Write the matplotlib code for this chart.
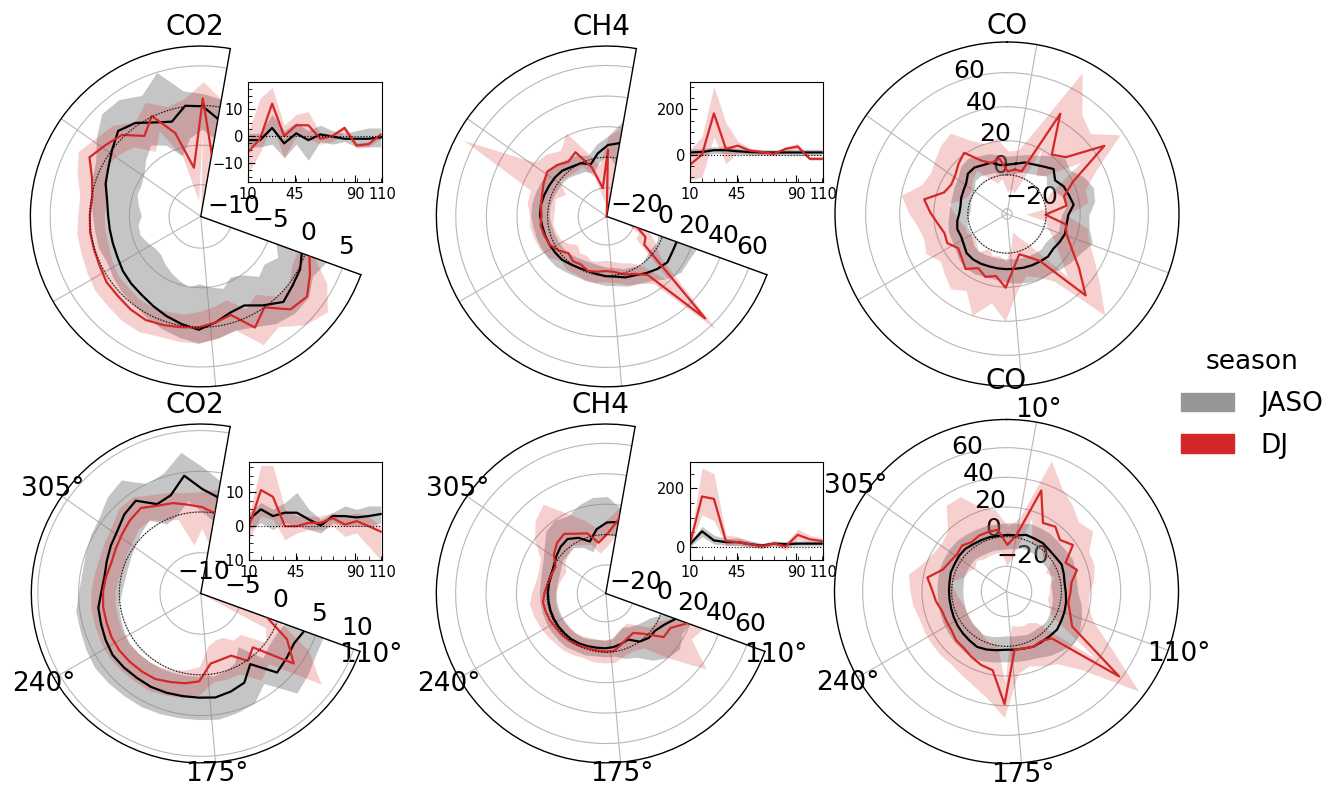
import numpy as np
import matplotlib
matplotlib.use("Agg")
import matplotlib.pyplot as plt
from matplotlib.patches import Patch
from matplotlib.ticker import AutoMinorLocator, FixedLocator

# ------------------------------------------------------------------
# Wind-direction bins (degrees, clockwise from north); the first 12
# bins (10-109 deg) are also shown enlarged in the inset panels.
# ------------------------------------------------------------------
wind_dir = np.arange(10, 370, 9)
n_inset = 12
seasons = ["JASO", "DJ"]
gases = ["CO2", "CH4", "CO"]

# ---------------- upper row -----------------
co2_u_jaso = [-1.5, -1.5, 3, -2.7, 1, -1.5, 0.6, -0.2, -1, -1, -1, -0.5,
              0.2, 0.5, 1.0, -0.3, -1.5, -1.3, -0.5, 0.3, -0.2, -0.7, -1.2, -1.6, -1.8, -2.0,
              -2.3, -2.4, -2.4, -2.3, -2.0, -1.3, -0.8, 0.0, 1.0, 0.4, -0.8, -1.5, 0.1, -0.1]
co2_u_jaso_lo = [-4, -4, -3, -8, -3, -9, -2, -3, -2, -4, -4, -4,
                 -3, -4, -3.5, -5, -5.5, -4.5, -5, -5.5, -5, -5.5, -6, -6.5, -7, -7,
                 -6.5, -6, -6, -6.5, -6, -5.5, -5.5, -5, -4, -3, -4, -6, -4, -3]
co2_u_jaso_hi = [1, 1, 8, 2, 5, 2, 4, 2, 1, 2, 3, 3,
                 2, 3, 3, 2.5, 1.5, 1, 1.5, 2, 1.5, 1, 0.5, 0, -0.2, -0.5,
                 -0.8, -0.5, -0.5, -0.3, 0, 0.5, 1, 2.5, 4, 4, 3, 5, 2, 1.5]
co2_u_dj = [-6, -1, 12, 0, 4, 4, -1, 0, 3, -3.5, -3, 0.5,
            1.6, 2.8, 2.3, 0.0, 1.6, -1.0, -0.5, 0.0, 0.2, 0.5, 0.8, 0.7, 0.5, 0.5,
            0.2, 0.1, 0.1, 0.0, -0.1, 0.5, 1.9, 1.0, 0.3, -1.6, 0.1, -3.0, -7.8, 0.9]
co2_u_dj_lo = [-14, -6, 4, -8, 0, -1, -3, -2, 1, -4.5, -4, -1,
               -1, 0, 0, -2, -1, -3, -2.5, -2, -1.5, -1.3, -1, -1, -1.2, -1.2,
               -1.5, -1.8, -1.8, -1.8, -2, -1.5, -0.5, -1, -1.8, -4, -2, -6, -12, -3]
co2_u_dj_hi = [1, 14, 18, 4, 8, 9, 1, 1, 4, -2.5, -2, 1,
               4, 6, 5, 3, 4, 1, 1.5, 2, 2, 2, 2.5, 2.5, 2.3, 2.3,
               2, 1.8, 1.8, 1.5, 1.5, 2.5, 3.5, 2.5, 2, 0.5, 2, 0.5, 1, 3]

ch4_u_jaso = [10, 12, 20, 20, 15, 12, 10, 10, 10, 10, 10, 10,
              10, 11, 9, 6.5, 4, 3, 1, 0.4, -0.5, -1, -0.5, 0.5, 2, 2.5,
              3, 3.5, 4, 5, 5, 4.5, 4, 3.7, 3, 1, 0, -3, 3, 8]
ch4_u_jaso_lo = [-5, -3, 5, 5, 2, 0, -2, -2, -2, -3, -3, -3,
                 -2, -3, -2, 0.5, -2, -3, -5, -5.6, -6.5, -7, -6.5, -5.5, -4, -3.5,
                 -3, -2.5, -2, -1, -1, -1.5, -2, -2.3, -3, -5, -6, -9, -3, 2]
ch4_u_jaso_hi = [25, 27, 35, 35, 28, 25, 22, 22, 22, 24, 24, 24,
                 22, 22, 18, 12.5, 10, 9, 7, 6.4, 5.5, 5, 5.5, 6.5, 8, 8.5,
                 9, 9.5, 10, 11, 11, 10.5, 10, 9.7, 9, 7, 6, 3, 9, 14]
ch4_u_dj = [-44, 0, 182, 26, 40, 18, 12, 4, 26, 36, -18, -18,
            -10, -8, 54, 8, 3, 1, -2, -3, -2, -1, -3, -2, -4, 0,
            3, 4, 5, 4, 5, 6, 8, 10, 8, 5, 8, -5, -20, 5]
ch4_u_dj_lo = [-110, -100, 80, -40, 10, 0, 0, -5, 15, 25, -25, -25,
               -15, -15, 20, 0, -5, -7, -9, -10, -9, -8, -10, -9, -12, -8,
               -5, -4, -3, -4, -4, -3, -8, 0, -2, -3, -2, -12, -30, -5]
ch4_u_dj_hi = [20, 80, 300, 140, 60, 30, 20, 10, 35, 50, -10, -10,
               -3, 5, 64, 15, 10, 8, 5, 4, 5, 6, 4, 5, 3, 8,
               10, 11, 12, 12, 14, 14, 67, 20, 18, 14, 22, 5, -5, 14]

co_u_jaso = [7, 9, 10, 12, 15, 11.5, 14, 15, 16.5, 13, 12.5, 13,
             12, 11, 11.7, 11, 10.5, 10, 9.5, 9.4, 9.4, 9.5, 10, 10.3, 10, 8,
             7, 7.5, 6.5, 5, 4.7, 5.5, 6, 7, 10, 10.3, 9, 8.5, 6, 6]
co_u_jaso_lo = [1, 3, 4, 6, 9, 5.5, 8, 11, 12.5, 9, 8.5, 9,
                6, 5, 5.7, 5, 4.5, 4, 3.5, 3.4, 3.4, 3.5, 4, 4.3, 4, 2,
                1, 1.5, 0.5, -1, -1.3, -0.5, 0, 1, 4, 4.3, 3, 2.5, 0, 0]
co_u_jaso_hi = [12, 14, 16, 20, 24, 22, 27, 30, 29, 25, 26, 30,
                26, 24, 22, 20, 20, 19, 18, 17, 16, 16, 17, 17, 16, 14,
                13, 13, 12, 11, 11, 11, 12, 13, 16, 17, 15, 14, 12, 11]
co_u_dj = [3.5, 3.5, 43.7, 20.7, 25, 46.8, 20, 12, 12.3, -0.4, 12, 14,
           20, 30, 43.5, 10.7, 5, 1.7, 8, 20.3, 14, 16, 13, 17.4, 14, 12,
           16, 15.4, 18, 22, 26.4, 16, 14, 15, 18, 20.9, 12, 8.2, 10, 2]
co_u_dj_lo = [-8, -10, 20, 5, 10, 30, 5, 0, 0, -12, 0, 2,
              8, 15, 28, -2, -8, -12, -5, 5, 2, 3, 0, 5, 2, 0,
              3, 3, 5, 8, 12, 4, 2, 3, 6, 8, 0, -4, -2, -10]
co_u_dj_hi = [15, 30, 71, 50, 45, 58, 35, 25, 25, 12, 25, 28,
              35, 45, 59.5, 25, 18, 15, 22, 40, 30, 40, 28, 32, 28, 25,
              30, 28, 30, 35, 40, 30, 28, 30, 33, 35, 25, 20, 22, 14]

# ---------------- lower row -----------------
co2_l_jaso = [2, 5, 3, 4, 4, 2, 0.2, 3, 3, 2.6, 3, 3.6,
              3.0, 3.2, 3.5, 0.6, 2.2, 2.6, 2.9, 2.8, 2.8, 2.9, 3.0, 3.0, 3.1, 3.2,
              3.0, 2.8, 2.7, 2.2, 2.0, 2.2, 2.5, 2.8, 3.5, 3.9, 2.2, 2.6, 4.6, 2.8]
co2_l_jaso_lo = [-1, 1, -1, 1, 0, -1, -2, 1, 0, 0, 0, 1,
                 0.5, 0.5, 1, -2, -0.5, 0, 0.3, 0.2, 0.2, 0.3, 0.4, 0.5, 0.6, 0.7,
                 0.5, 0.3, 0.2, -0.3, -0.5, -0.5, -0.3, 0, 0.5, 1, -0.5, 0, 1.5, 0]
co2_l_jaso_hi = [4, 7, 5, 7, 10, 5, 2, 4, 6, 5, 6, 6,
                 6, 6.5, 7, 3.5, 5, 5.3, 5.6, 5.5, 5.5, 5.6, 5.7, 5.7, 5.8, 5.9,
                 5.7, 5.5, 5.5, 5.0, 4.8, 5.0, 5.3, 5.6, 6.5, 7, 5, 5.5, 7.5, 5.5]
co2_l_dj = [0, 10.7, 8.7, 0, 0, 1, 1, 2.4, 0.5, 1.5, 0, -1.6,
            2.0, 4.3, -0.8, 0.1, -1.5, -1.5, -1.3, 0.8, 1.2, 1.5, 1.9, 2.0, 2.1, 2.2,
            2.2, 2.1, 2.1, 2.0, 1.8, 1.6, 1.8, 2.1, 2.5, 2.8, 2.0, 1.6, 1.0, 0.6]
co2_l_dj_lo = [-4, 3, 2, -4, -2, -1, -1, 0, -3, -2, -6, -10,
               -1, 0, -3, -3, -4, -4, -3.5, -1, -0.5, 0, 0.3, 0.5, 0.6, 0.7,
               0.7, 0.6, 0.6, 0.5, 0.3, 0, 0.3, 0.5, 1, 1, 0, -0.5, -4, -2]
co2_l_dj_hi = [3, 18, 18, 5, 3, 3, 3, 4, 3, 4, 3, 0,
               5, 8.5, 2, 3, 1, 1, 1, 2.5, 3, 3.2, 3.5, 3.5, 3.6, 3.7,
               3.7, 3.6, 3.6, 3.5, 3.3, 3.2, 3.4, 3.7, 4.5, 4.5, 3.5, 3, 2.5, 2.5]

ch4_l_jaso = [9, 53, 22, 16, 16, 9, 4, 11, 9, 11, 11, 11,
              5, 2, 2, 0, -5, -4, -3, -2.6, -2.5, -2, -1.5, -1, -1, -0.8,
              -0.7, -0.7, -0.7, -0.7, -0.8, -1, 0, 2, 4, 5, 2, -3, 4, 8]
ch4_l_jaso_lo = [0, 35, 10, 5, 5, 0, -5, 2, 0, 3, 3, 3,
                 -5, -8, -10, -12, -14, -12, -9, -8, -8, -7, -6, -6, -6, -6,
                 -6, -6, -6, -6, -6, -6, -5, -3, -3, -2, -5, -10, -3, 0]
ch4_l_jaso_hi = [18, 70, 40, 28, 30, 20, 12, 20, 18, 20, 20, 20,
                 18, 22, 20, 15, 8, 6, 3, 3, 3, 4, 4, 5, 5, 5,
                 5, 5, 5, 5, 5, 6, 8, 12, 18, 20, 18, 22, 25, 25]
ch4_l_dj = [11, 172, 164, 20, 16, 9, 2, 11, 2, 41, 26, 20,
            9.6, 9, -1.7, -7, -6, -3.7, -0.4, -0.5, -0.8, -0.9, 0, 0.5, 1, 1.1,
            2, 2.5, 3, 1.5, 0, -1, -1.3, 4, 7.4, 9.1, 5, 2.6, -5, 0]
ch4_l_dj_lo = [0, 110, 90, 5, 5, 0, -5, 5, -10, 25, 15, 10,
               0, -2, -10, -15, -14, -12, -8, -8, -8, -8, -7, -6, -6, -6,
               -5, -5, -5, -6, -7, -8, -9, -5, -3, 0, -3, -5, -12, -8]
ch4_l_dj_hi = [20, 270, 250, 40, 35, 20, 10, 15, 15, 60, 40, 30,
               25, 44, 20, 5, 3, 4, 7, 7, 7, 6, 7, 8, 8, 9,
               10, 11, 12, 10, 8, 8, 10, 20, 28, 33, 20, 12, 5, 10]

co_l_jaso = [1.4, 3.4, 3.4, 3.8, 3.2, 3.4, 4.4, 3.4, 2.6, 3.0, 3.8, 4.4,
             4.9, 5.7, 4.9, 4.4, 4.4, 3.2, 2.6, 2.3, 3.2, 4.4, 5.3, 4.4, 3.8, 3.2,
             2.6, 2.0, 1.8, 1.8, 2.0, 2.7, 2.6, 3.0, 3.0, 2.0, 1.6, 1.4, 0.9, 1.2]
co_l_jaso_lo = [-7.9, -5.9, -5.9, -5.5, -6.1, -5.9, -5.0, -5.9, -6.7, -6.4, -5.5, -5.0,
                -4.4, -3.6, -4.4, -5.0, -5.0, -6.1, -6.7, -7.1, -6.1, -5.0, -4.0, -5.0, -5.5, -6.1,
                -6.7, -7.3, -7.5, -7.5, -7.3, -6.6, -6.7, -6.4, -6.4, -7.3, -7.8, -7.9, -8.5, -8.1]
co_l_jaso_hi = [9.6, 11.6, 11.6, 11.9, 11.3, 11.6, 12.5, 11.6, 10.8, 11.1, 14.2, 16.6,
                18.9, 20.1, 17.7, 15.4, 12.5, 11.3, 10.8, 10.4, 11.3, 12.5, 13.4, 12.5, 11.9, 11.3,
                10.8, 10.2, 9.9, 9.9, 10.2, 10.9, 10.8, 11.1, 11.1, 10.2, 9.7, 9.6, 9.0, 9.4]
co_l_dj = [1.4, 35.0, 15.4, 17.7, 13.1, 17.7, 7.3, 12.7, 7.3, 6.1, 5.3, 8.4,
           13.1, 58.2, 6.9, 3.8, 4.4, 3.2, 2.6, 39.0, 16.9, 15.4, 13.1, 10.8, 10.3, 8.4,
           8.2, 8.4, 11.0, 13.1, 17.2, 8.4, 6.1, 4.8, 6.1, 3.8, 5.0, 5.0, 5.0, -5.5]
co_l_dj_lo = [-12.5, 15.4, -0.9, 1.4, -3.2, 1.4, -7.9, -3.2, -7.9, -7.9, -9.0, -6.7,
              -3.2, 38.7, -7.9, -11.4, -11.4, -12.5, -13.7, 24.7, -0.9, -0.9, -3.2, -5.5, -5.5, -6.7,
              -6.7, -6.7, -4.4, -2.1, 1.4, -6.7, -7.9, -10.2, -7.9, -10.2, -10.2, -10.2, -10.2, -19.5]
co_l_dj_hi = [13.1, 56.1, 42.2, 36.4, 30.5, 34.0, 24.7, 24.7, 22.4, 18.9, 18.9, 24.7,
              42.2, 74.8, 36.4, 22.4, 18.9, 15.4, 18.9, 48.0, 36.4, 30.5, 27.0, 24.7, 24.7, 24.7,
              24.7, 24.7, 27.0, 28.2, 30.1, 22.4, 18.9, 17.7, 20.1, 34.0, 34.0, 22.4, 18.9, 7.3]

data = {
    ("upper", "CO2"): {"JASO": (co2_u_jaso, co2_u_jaso_lo, co2_u_jaso_hi),
                       "DJ": (co2_u_dj, co2_u_dj_lo, co2_u_dj_hi)},
    ("upper", "CH4"): {"JASO": (ch4_u_jaso, ch4_u_jaso_lo, ch4_u_jaso_hi),
                       "DJ": (ch4_u_dj, ch4_u_dj_lo, ch4_u_dj_hi)},
    ("upper", "CO"): {"JASO": (co_u_jaso, co_u_jaso_lo, co_u_jaso_hi),
                      "DJ": (co_u_dj, co_u_dj_lo, co_u_dj_hi)},
    ("lower", "CO2"): {"JASO": (co2_l_jaso, co2_l_jaso_lo, co2_l_jaso_hi),
                       "DJ": (co2_l_dj, co2_l_dj_lo, co2_l_dj_hi)},
    ("lower", "CH4"): {"JASO": (ch4_l_jaso, ch4_l_jaso_lo, ch4_l_jaso_hi),
                       "DJ": (ch4_l_dj, ch4_l_dj_lo, ch4_l_dj_hi)},
    ("lower", "CO"): {"JASO": (co_l_jaso, co_l_jaso_lo, co_l_jaso_hi),
                      "DJ": (co_l_dj, co_l_dj_lo, co_l_dj_hi)},
}

# radial limits / ticks for each polar panel
r_limits = {("upper", "CO2"): (-14, 7.5), ("lower", "CO2"): (-10, 10.8),
            ("upper", "CH4"): (-38.7, 72.7), ("lower", "CH4"): (-38.7, 72.7),
            ("upper", "CO"): (-23, 78), ("lower", "CO"): (-37, 79)}
r_ticks = {("upper", "CO2"): [-10, -5, 0, 5], ("lower", "CO2"): [-10, -5, 0, 5, 10],
           ("upper", "CH4"): [-20, 0, 20, 40, 60], ("lower", "CH4"): [-20, 0, 20, 40, 60],
           ("upper", "CO"): [-20, 0, 20, 40, 60], ("lower", "CO"): [-20, 0, 20, 40, 60]}
inset_ylim = {("upper", "CO2"): (-17, 20), ("lower", "CO2"): (-10, 19),
              ("upper", "CH4"): (-120, 320), ("lower", "CH4"): (-45, 290)}
inset_yticks = {"CO2": [-10, 0, 10], "CH4": [0, 200]}
theta_ticks_sector = [110, 175, 240, 305]
theta_ticks_full = [10, 110, 175, 240, 305]
inset_xticks = [10, 45, 90, 110]

colors = {"JASO": ("black", "#808080", 0.45), "DJ": ("#d62728", "#d62728", 0.22)}
legend_colors = {"JASO": "#969696", "DJ": "#d62728"}

W, H = 1324, 786
fig = plt.figure(figsize=(W / 100, H / 100), dpi=100)


def px_rect(x0, y0, x1, y1):
    return [x0 / W, 1 - y1 / H, (x1 - x0) / W, (y1 - y0) / H]


# panel box centres and half sizes (pixels)
layout = {("upper", "CO2"): (195, 216, 173), ("upper", "CH4"): (601, 216, 173),
          ("upper", "CO"): (1007, 214, 172),
          ("lower", "CO2"): (195, 593, 172), ("lower", "CH4"): (600, 593, 172),
          ("lower", "CO"): (1006.5, 591.5, 172)}
inset_boxes = {("upper", "CO2"): (248, 82, 382, 182), ("upper", "CH4"): (690, 82, 823, 182),
               ("lower", "CO2"): (249, 462, 382, 560), ("lower", "CH4"): (690, 462, 823, 560)}

for (row, gas), (cx, cy, half) in layout.items():
    full = gas == "CO"
    ax = fig.add_axes(px_rect(cx - half, cy - half, cx + half, cy + half),
                      projection="polar")
    ax.set_theta_zero_location("N")
    ax.set_theta_direction(-1)
    rmin, rmax = r_limits[(row, gas)]
    if not full:
        ax.set_thetamin(110)
        ax.set_thetamax(370)
    theta = np.deg2rad(np.append(wind_dir, wind_dir[0] + 360))
    for s in seasons:
        mean, lo, hi = (np.append(np.asarray(v, float), v[0]) for v in data[(row, gas)][s])
        lc, fc, fa = colors[s]
        ax.fill_between(theta, np.clip(lo, rmin, None), np.clip(hi, rmin, None),
                        color=fc, alpha=fa, lw=0, zorder=2)
        ax.plot(theta, np.clip(mean, rmin, None), color=lc, lw=1.6, zorder=3)
    circ = np.linspace(0, 2 * np.pi, 361)
    ax.plot(circ, np.zeros_like(circ), ls=":", color="black", lw=0.8, zorder=4)
    ax.set_ylim(rmin, rmax)
    ax.set_yticks(r_ticks[(row, gas)])
    ax.tick_params(axis="y", labelsize=18)
    ax.set_rlabel_position(337.5)
    ticks = theta_ticks_full if full else theta_ticks_sector
    ax.set_xticks(np.deg2rad(ticks))
    if row == "lower":
        ax.set_xticklabels([f"{t}°" for t in ticks], fontsize=19)
        ax.tick_params(axis="x", pad=-2)
    else:
        ax.set_xticklabels([])
    ax.grid(True, color="#b8b8b8", lw=0.8)
    for sp in ax.spines.values():
        sp.set_color("black")
        sp.set_linewidth(1.0)
    ax.set_title(gas, fontsize=20)

    if not full:
        ia = fig.add_axes(px_rect(*inset_boxes[(row, gas)]))
        x = wind_dir[:n_inset]
        for s in seasons:
            mean, lo, hi = (np.asarray(v, float)[:n_inset] for v in data[(row, gas)][s])
            lc, fc, fa = colors[s]
            ia.fill_between(x, lo, hi, color=fc, alpha=fa, lw=0)
            ia.plot(x, mean, color=lc, lw=1.6)
        ia.axhline(0, ls=":", color="black", lw=0.8)
        ia.set_xlim(10, 110)
        ia.set_ylim(*inset_ylim[(row, gas)])
        ia.set_xticks(inset_xticks)
        ia.xaxis.set_minor_locator(FixedLocator(x))
        ia.set_yticks(inset_yticks[gas])
        ia.yaxis.set_minor_locator(AutoMinorLocator(4))
        ia.tick_params(which="both", direction="in", labelsize=10.5,
                       top=False, right=False)
        ia.tick_params(which="major", length=5)
        ia.tick_params(which="minor", length=3)

handles = [Patch(color=legend_colors[s], label=s) for s in seasons]
fig.legend(handles=handles, title="season", loc="center left",
           bbox_to_anchor=(1157 / W, 1 - 404 / H), frameon=False,
           fontsize=19, title_fontsize=19, handlelength=2.0,
           handletextpad=1.0, labelspacing=0.6)

fig.savefig("out.png", dpi=100)
